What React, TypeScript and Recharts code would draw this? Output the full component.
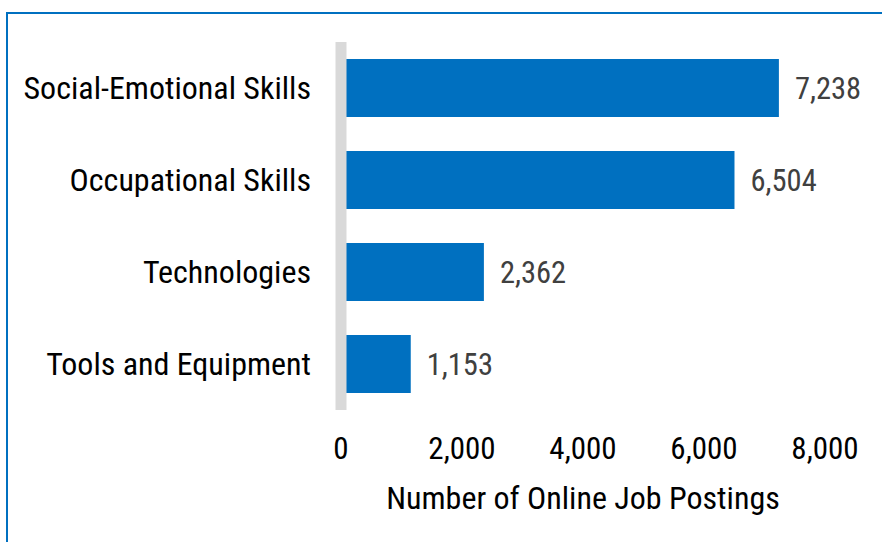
import React from "react";
import { BarChart, Bar, XAxis, YAxis, LabelList } from "recharts";

const categories = ["Social-Emotional Skills", "Occupational Skills", "Technologies", "Tools and Equipment"];
const postings = [7238, 6504, 2362, 1153];
const xTicks = [0, 2000, 4000, 6000, 8000];

const data = categories.map((name, i) => ({ name, value: postings[i] }));

const BLUE = "#0070C0";
const FONT = "Roboto, sans-serif";

const fmt = (v: any) => Number(v).toLocaleString("en-US");

const App: React.FC = () => {
  return (
    <div style={{ position: "absolute", left: 0, top: 0, width: 882, height: 542, overflow: "hidden", background: "#fff" }}>
      {/* frame */}
      <div
        style={{
          position: "absolute",
          left: 6,
          top: 12,
          width: 900,
          height: 560,
          borderLeft: `2px solid ${BLUE}`,
          borderTop: `2px solid ${BLUE}`,
        }}
      />
      <div style={{ position: "absolute", left: 0, top: 0, fontStretch: "condensed" }}>
        <BarChart
          width={882}
          height={542}
          data={data}
          layout="vertical"
          margin={{ top: 42, right: 57, bottom: 0, left: 0 }}
          barCategoryGap={17}
        >
          <XAxis
            type="number"
            domain={[0, 8000]}
            ticks={xTicks}
            tickFormatter={fmt}
            axisLine={false}
            tickLine={false}
            tickSize={0}
            tickMargin={27}
            height={132}
            tick={{ fill: "#000", fontSize: 31, fontFamily: FONT }}
            label={{
              value: "Number of Online Job Postings",
              position: "insideBottom",
              offset: 33,
              fill: "#000",
              fontSize: 32,
              fontFamily: FONT,
            }}
          />
          <Bar dataKey="value" fill={BLUE} isAnimationActive={false}>
            <LabelList
              dataKey="value"
              position="right"
              offset={16}
              formatter={fmt}
              fill="#404040"
              fontSize={30.5}
              fontFamily={FONT}
            />
          </Bar>
          <YAxis
            type="category"
            dataKey="name"
            width={341}
            axisLine={{ stroke: "#D9D9D9", strokeWidth: 11 }}
            tickLine={false}
            tickSize={0}
            tickMargin={30}
            tick={{ fill: "#000", fontSize: 32, fontFamily: FONT }}
          />
        </BarChart>
      </div>
    </div>
  );
};

export default App;
